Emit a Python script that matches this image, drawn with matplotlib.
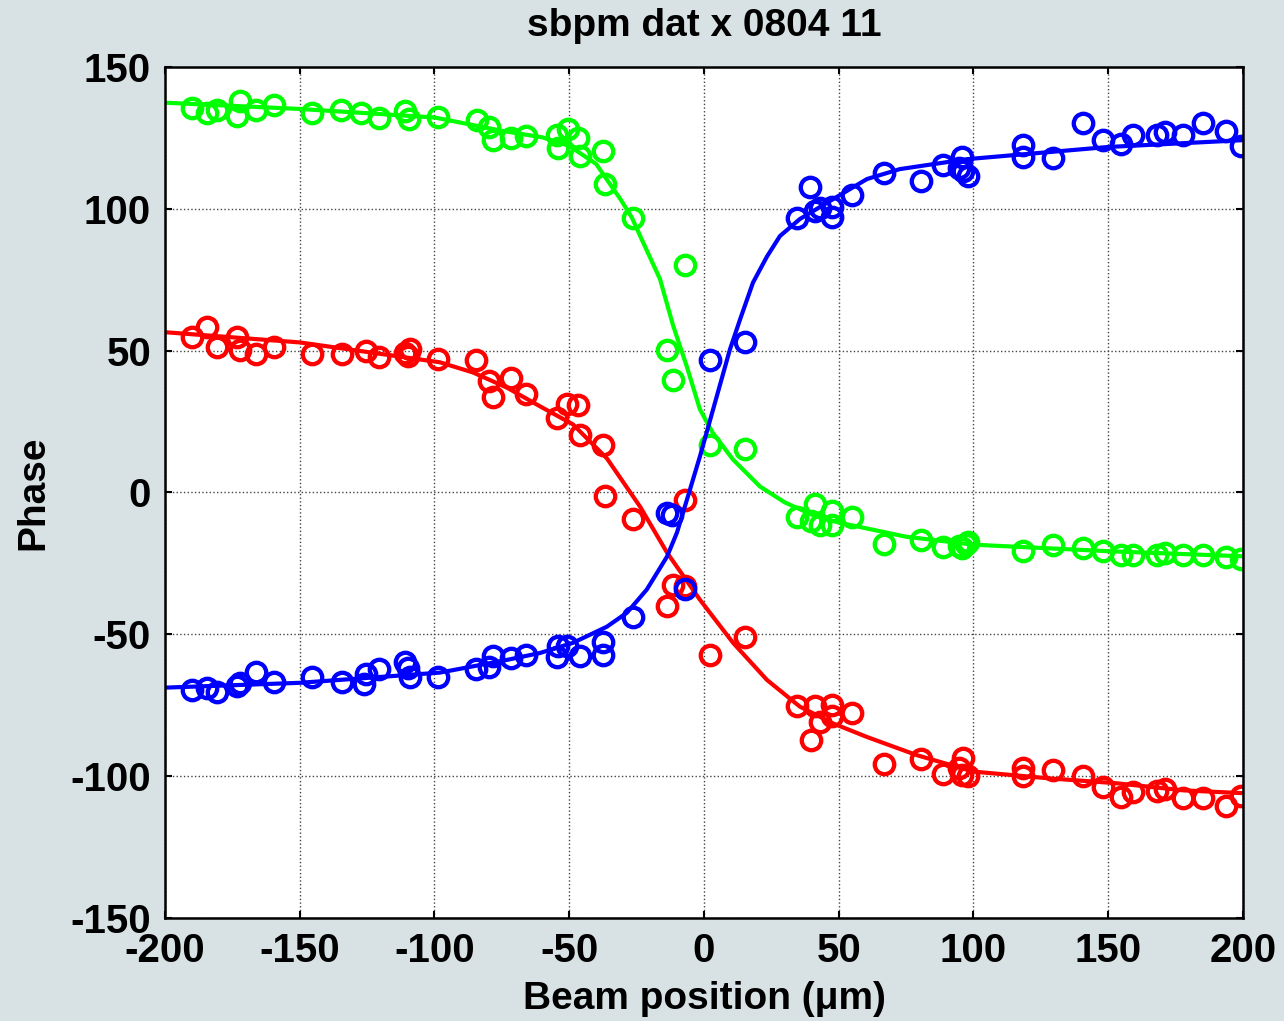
import matplotlib
matplotlib.use('Agg')
import matplotlib.pyplot as plt

plt.rcParams['font.family'] = ['Liberation Sans', 'DejaVu Sans']
plt.rcParams['font.weight'] = 'bold'
plt.rcParams['font.size'] = 28
plt.rcParams['axes.unicode_minus'] = False

# measured points (x in um, phase)
green_x = [-190, -184.4, -180.7, -172.2, -173.3, -166.2, -159.6, -145.5, -134.7, -127.4,
           -120.6, -111, -109.5, -98.7, -84.2, -79.8, -78.3, -71.6, -66, -54.5,
           -54.1, -50.5, -46.8, -46, -37.5, -36.7, -26.3, -7, -13.7, -11.5,
           2.2, 15.2, 34.5, 41.2, 39.7, 43, 47.5, 47.5, 54.9, 66.8,
           80.5, 88.7, 94.6, 95.7, 97.2, 98, 118.4, 129.5, 140.6, 148,
           154.7, 159.2, 168.1, 171, 177.7, 185.2, 193.7, 199.3]
green_y = [135.7, 133.8, 134.8, 138, 132.7, 134.8, 136.6, 133.8, 134.8, 133.8,
           132, 134.5, 131.7, 132.4, 131.3, 128.8, 124.2, 125, 125.7, 126,
           121.4, 128.1, 125, 118.6, 120.4, 108.7, 96.7, 80.1, 50.1, 39.5,
           16.6, 15.2, -8.8, -3.9, -10.2, -11.3, -6.7, -11.6, -8.5, -18,
           -16.9, -19.1, -18.7, -19.4, -18, -17.3, -20.5, -18.4, -19.4, -20.5,
           -22.2, -22.2, -22.2, -21.2, -21.9, -22.2, -22.6, -23.6]

red_x = [-190, -184.4, -180.7, -173.3, -172.2, -166.2, -159.6, -145.5, -134.3, -125.4,
         -120.6, -111, -109.1, -109.8, -98.7, -84.6, -79.8, -78.3, -71.6, -66,
         -54.5, -50.8, -46.8, -46, -37.5, -36.7, -26.3, -13.7, -11.5, -7,
         -7, 2.2, 15.2, 34.5, 39.7, 41.2, 43, 47.5, 47.5, 54.9,
         66.8, 80.5, 88.7, 94.6, 96, 95.7, 98, 118.4, 118.4, 129.5,
         140.6, 148, 154.7, 159.2, 168.1, 171, 177.7, 185.2, 193.7, 199.3]
red_y = [54.7, 58.2, 51.2, 54.7, 50.1, 48.7, 51.2, 48.7, 48.7, 49.8,
         47.7, 49.1, 50.5, 48, 46.9, 46.6, 39.2, 33.5, 40.2, 34.6,
         26.1, 31.1, 30.7, 20.1, 16.6, -1.4, -9.5, -39.9, -32.5, -32.8,
         -2.5, -57.2, -50.8, -75.2, -87.2, -75.2, -80.8, -74.8, -78.7, -77.7,
         -95.7, -93.9, -99.2, -97.1, -93.5, -99.5, -99.9, -97.1, -99.9, -97.8,
         -99.9, -103.8, -107.3, -105.5, -105.2, -104.5, -107.7, -107.7, -110.5, -107]

blue_x = [-190, -184.4, -180.7, -173.3, -172.2, -166.2, -159.6, -145.5, -134.3, -126.1,
          -125.4, -120.6, -111, -109.8, -109.1, -98.7, -84.6, -79.8, -78.3, -71.6,
          -66, -54.5, -54.1, -50.8, -46, -37.5, -37.5, -26.3, -13.7, -11.8,
          -7, 2.2, 15.2, 34.5, 39.3, 41.2, 43, 47.5, 47.5, 54.9,
          66.8, 80.5, 88.7, 94.6, 95.7, 96, 98, 118.4, 118.4, 129.5,
          140.6, 148, 154.7, 159.2, 168.1, 171, 177.7, 185.2, 193.7, 199.3]
blue_y = [-69.5, -68.8, -70.2, -68.1, -67.1, -63.2, -66.7, -64.9, -66.7, -67.4,
          -63.9, -62.1, -59.7, -61.8, -64.9, -64.9, -62.1, -61.4, -57.5, -58.2,
          -57.2, -57.9, -54, -54, -57.5, -52.6, -57.2, -43.8, -7.1, -8.1,
          -34.2, 46.6, 52.9, 96.7, 107.7, 99.2, 100.2, 97.1, 100.6, 104.8,
          112.6, 109.8, 115.4, 114.4, 118.2, 113.3, 111.5, 122.5, 118.2, 117.9,
          130.3, 124.2, 122.8, 126, 126, 127.1, 126, 130.3, 127.4, 122.1]

# fitted curves
green_fit_x = [-200, -150, -100, -75, -60, -50, -40, -31, -26.8, -22.6, -16.3, -11.5, -6.4,
               -1.5, 3.3, 10.8, 20.8, 30, 40, 50, 75, 100, 150, 200]
green_fit_y = [137.4, 135.2, 132.2, 127.5, 125.2, 122.2, 115.8, 103.4, 97, 88.2, 75.2, 59, 44.5,
               29.3, 21, 11.6, 2.1, -3.5, -7.8, -10.6, -15.6, -18.4, -20.7, -22.5]

red_fit_x = [-200, -150, -98, -85.7, -73.2, -60.9, -48.6, -36, -23.7, -13.7, -1.5, 10.8,
             23.4, 35.6, 47.9, 60.5, 79, 100, 128.4, 153, 177.8, 200]
red_fit_y = [56.5, 52.9, 45.9, 42.3, 37, 30.4, 24, 12, -5, -21.2, -37.8, -53,
             -66.1, -75.5, -81.4, -86.2, -92.6, -98.4, -100.8, -102.5, -105, -106]

blue_fit_x = [-200, -150, -98, -73, -60.9, -48.6, -36, -28.6, -21.2, -13.7, -10, -6.3, -1.5,
              3.4, 9.6, 13.4, 18.2, 23.4, 28.2, 35.6, 47.9, 60.5, 72.7, 97.6, 150, 200]
blue_fit_y = [-68.8, -67.1, -63.5, -59, -56.6, -53, -47.3, -42.4, -34.2, -22.6, -14.1, -2.5, 12.7,
              29.3, 50.3, 61, 74, 83.2, 90.4, 96.4, 103.4, 110.5, 114, 117.5, 121.8, 124.2]

fig = plt.figure(figsize=(12.84, 10.21), dpi=100, facecolor='#d8e2e4')
ax = fig.add_axes([0.1285, 0.1009, 0.8395, 0.8335])

ms = 14
mew = 3.1
lw = 3.0
ax.plot(green_x, green_y, 'o', mfc='none', mec='#00ff00', ms=ms, mew=mew)
ax.plot(green_fit_x, green_fit_y, '-', color='#00ff00', lw=lw)
ax.plot(red_x, red_y, 'o', mfc='none', mec='#ff0000', ms=ms, mew=mew)
ax.plot(red_fit_x, red_fit_y, '-', color='#ff0000', lw=lw)
ax.plot(blue_x, blue_y, 'o', mfc='none', mec='#0000ff', ms=ms, mew=mew)
ax.plot(blue_fit_x, blue_fit_y, '-', color='#0000ff', lw=lw)

ax.set_xlim(-200, 200)
ax.set_ylim(-150, 150)
ax.set_xticks(range(-200, 201, 50))
ax.set_yticks(range(-150, 151, 50))
ax.grid(True, linestyle=':', color='#444444', linewidth=1.0)
ax.tick_params(direction='in', length=5, width=1.5, top=True, right=True,
               labelsize=29, pad=10)
for s in ax.spines.values():
    s.set_linewidth(1.8)

ax.set_title('sbpm dat x 0804 11', fontsize=28, fontweight='bold', pad=22)
ax.set_xlabel('Beam position (\u03bcm)', fontsize=28, fontweight='bold', labelpad=8)
ax.set_ylabel('Phase', fontsize=28, fontweight='bold', labelpad=14)

fig.savefig('out.png', dpi=100, facecolor=fig.get_facecolor())
